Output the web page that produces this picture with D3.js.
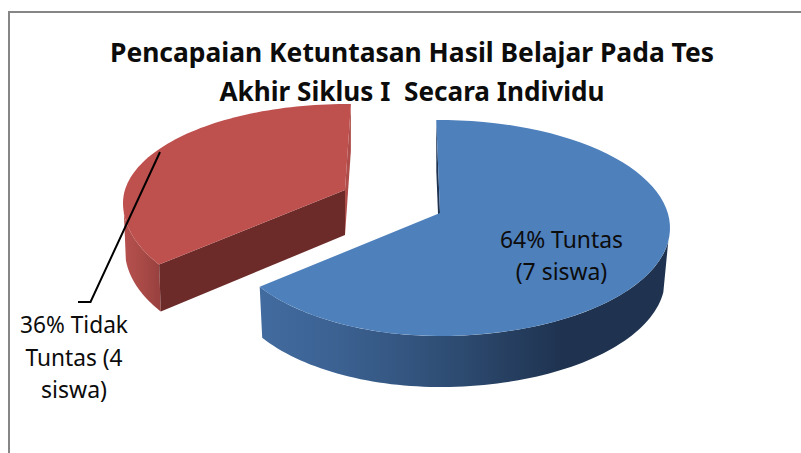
<!DOCTYPE html>
<html>
<head>
<meta charset="utf-8">
<script src="https://cdn.jsdelivr.net/npm/d3@7"></script>
<style>
html,body{margin:0;padding:0;background:#fff;overflow:hidden}
svg{display:block}
text{font-family:"Noto Sans",Lato,sans-serif;white-space:pre;fill:#0c0c0c}
</style>
</head>
<body>
<div id="chart"></div>
<script>
// data
const categories = ["Tuntas", "Tidak Tuntas"];
const percentages = [64, 36];
const titleLines = ["Pencapaian Ketuntasan Hasil Belajar Pada Tes", "Akhir Siklus I  Secara Individu"];
const blueLabelLines = ["64% Tuntas", "(7 siswa)"];
const redLabelLines = ["36% Tidak", "Tuntas (4", "siswa)"];

// layout
const W = 801, H = 453;
const rad = d => d * Math.PI / 180;
const svg = d3.select("#chart").append("svg").attr("width", W).attr("height", H);

const pie = d3.pie().sort(null).value(d => d);
const slices = pie(percentages);
// the perspective view turns the pie's angles into view angles on the ellipse
const viewAngle = d3.scaleLinear()
  .domain([0, slices[0].endAngle, 2 * Math.PI])
  .range([rad(-1), rad(237), rad(361)]);

const shapes = [
  { cx: 440, cy: 228, rxL: 215, rxR: 230, rxLB: 212, rxRB: 225, ryT: 108, ryB: 108, apex: [440, 213], depth: 51 },
  { cx: 347, cy: 203, rxL: 224, rxR: 224, rxLB: 222, rxRB: 222, ryT: 99, ryB: 113, apex: [345, 190], depth: 47 }
];
const point = (s, t, wall) => {
  const sn = Math.sin(t), cs = Math.cos(t);
  const rx = sn < 0 ? (wall ? s.rxLB : s.rxL) : (wall ? s.rxRB : s.rxR);
  const ry = cs > 0 ? s.ryT : s.ryB;
  return [s.cx + rx * sn, s.cy - ry * cs + (wall ? s.depth : 0)];
};
const arcPts = (s, a, b, wall) => d3.range(0, 81).map(i => point(s, a + (b - a) * i / 80, wall));
const line = d3.line();
const closed = pts => line(pts) + "Z";
const down = (p, d) => [p[0], p[1] + d];

// gradients
const defs = svg.append("defs");
const grad = (id, stops) => defs.append("linearGradient").attr("id", id)
  .attr("x1", 0).attr("x2", 1).attr("y1", 0).attr("y2", 0)
  .selectAll("stop").data(stops).join("stop")
  .attr("offset", d => d[0]).attr("stop-color", d => d[1]);
grad("blueWall", [[0, "#426b9f"], [0.2, "#3b6191"], [0.45, "#2f4e75"], [0.74, "#1f3350"], [1, "#1f3350"]]);
grad("redWall", [[0, "#b5514e"], [0.5, "#a94a47"], [1, "#97403e"]]);

// frame
svg.append("path").attr("d", line([[9, H + 2], [9, 12], [W + 2, 12]]))
  .attr("fill", "none").attr("stroke", "#868686").attr("stroke-width", 2);

// red slice
{
  const s = shapes[1], d = slices[1];
  const t0 = viewAngle(d.startAngle), t1 = viewAngle(d.endAngle);
  const g = svg.append("g");
  const tEnd = point(s, t1, false), tStart = point(s, t0, false);
  g.append("path").attr("d", closed([tEnd, point(s, t1, true), down(s.apex, s.depth - 2), s.apex]))
    .attr("fill", "#ad4c49");
  g.append("path").attr("d", closed(arcPts(s, t0, rad(265), false).concat(arcPts(s, rad(265), t0, true))))
    .attr("fill", "url(#redWall)");
  g.append("path").attr("d", closed([s.apex, tStart, point(s, t0, true), down(s.apex, s.depth - 2)]))
    .attr("fill", "#6c2b29");
  g.append("path").attr("d", closed([s.apex].concat(arcPts(s, t0, t1, false))))
    .attr("fill", "#be504e");
}

// blue slice
{
  const s = shapes[0], d = slices[0];
  const t0 = viewAngle(d.startAngle), t1 = viewAngle(d.endAngle);
  const g = svg.append("g");
  g.append("path").attr("d", closed([point(s, t0, false), point(s, t0, true), down(s.apex, s.depth), s.apex]))
    .attr("fill", "#1f3350");
  g.append("path").attr("d", closed(arcPts(s, t1, rad(97), false).concat(arcPts(s, rad(97), t1, true))))
    .attr("fill", "url(#blueWall)");
  g.append("path").attr("d", closed([s.apex].concat(arcPts(s, t0, t1, false))))
    .attr("fill", "#4e80bc");
}

// leader line
svg.append("path").attr("d", line([[160, 152], [90.5, 302], [78, 302]]))
  .attr("fill", "none").attr("stroke", "#000").attr("stroke-width", 2);

// texts
const drawText = (lines, x, ys, widths, size, weight) => {
  svg.append("g").selectAll("text").data(lines).join("text")
    .attr("x", x).attr("y", (d, i) => ys[i])
    .attr("text-anchor", "middle")
    .attr("font-size", size).attr("font-weight", weight)
    .attr("textLength", (d, i) => widths[i])
    .attr("lengthAdjust", "spacingAndGlyphs")
    .text(d => d);
};
drawText(titleLines, 412, [62, 100.5], [604, 385], 27, 700);
drawText(blueLabelLines, 561.5, [248, 280], [123, 91.5], 23, 400);
drawText(redLabelLines, 74, [333, 366, 398], [108, 97, 66], 23, 400);
</script>
</body>
</html>
